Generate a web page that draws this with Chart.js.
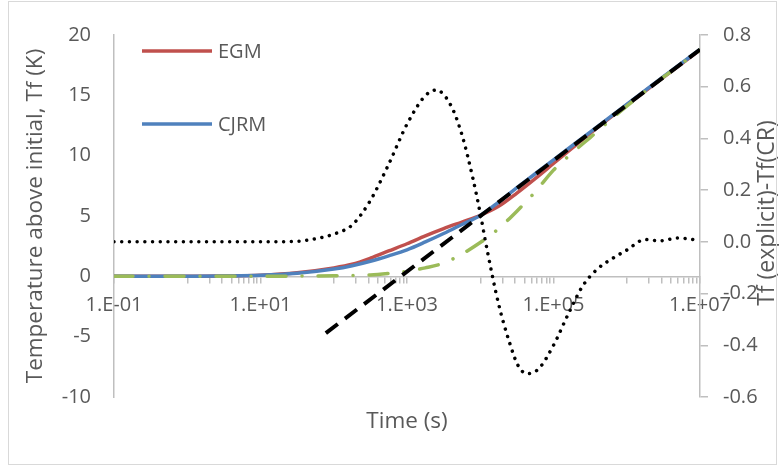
<!DOCTYPE html>
<html lang="en">

<head>
  <meta charset="UTF-8">
  <script src="https://cdn.jsdelivr.net/npm/chart.js"></script>
  <style>
    body { margin: 0; background: #fff; }
    .chart-box { position: relative; width: 779px; height: 468px; }
    .chart-box canvas { position: absolute; left: 0; top: 0; }
    .chart-frame {
      position: absolute; left: 8px; top: 1px; width: 769px; height: 464px;
      border: 1px solid #d9d9d9; box-sizing: border-box; pointer-events: none;
    }
  </style>
</head>

<body>
  <div class="chart-box">
    <canvas id="tempChart" width="779" height="468"></canvas>
    <div class="chart-frame"></div>
  </div>

  <script>
    // time grid (s) used by the three temperature curves
    const time = [0.1, 0.316, 1, 3.16, 10, 31.6, 100, 178, 316, 562, 1000, 1778, 3162, 5623,
      10000, 17783, 31623, 56234, 100000, 177828, 316228, 1000000, 3162278, 10000000];
    const egm = [0, 0, 0.01, 0.03, 0.1, 0.3, 0.7, 1.0, 1.5, 2.1, 2.7, 3.35, 3.95, 4.5,
      5.05, 5.8, 6.9, 8.1, 9.35, 10.6, 11.85, 14.2, 16.5, 18.75];
    const cjrm = [0, 0, 0.01, 0.03, 0.08, 0.25, 0.6, 0.88, 1.25, 1.7, 2.2, 2.85, 3.55, 4.3,
      5.05, 6.15, 7.35, 8.5, 9.65, 10.8, 11.95, 14.25, 16.55, 18.8];
    const explicitTf = [0, 0, 0, 0, 0.01, 0.02, 0.04, 0.07, 0.12, 0.25, 0.42, 0.7, 1.1, 1.85,
      2.8, 3.95, 5.4, 7.0, 8.8, 10.2, 11.5, 14.1, 16.5, 18.75];

    // long-time straight line (black dashed)
    const asymTime = [78, 10000000];
    const asymTf = [-4.7, 18.8];

    // Tf(explicit) - Tf(CR), right axis (black dotted)
    const diffTime = [0.1, 10, 31.6, 56.2, 100, 178, 316, 562, 1000, 1778, 2512, 3981, 5623, 7943,
      10000, 12589, 17783, 25119, 33113, 43652, 63096, 100000, 158489, 251189, 398107, 630957,
      1000000, 1778279, 2818383, 5011872, 10000000];
    const diff = [0, 0, 0.002, 0.012, 0.03, 0.065, 0.16, 0.30, 0.455, 0.565, 0.587, 0.527, 0.414, 0.245,
      0.11, -0.04, -0.24, -0.39, -0.48, -0.51, -0.49, -0.40, -0.28, -0.17, -0.105, -0.065,
      -0.032, 0.009, 0.004, 0.015, 0.005];

    const xTickValues = [0.1, 10, 1000, 100000, 10000000];
    const xTickLabels = ['1.E-01', '1.E+01', '1.E+03', '1.E+05', '1.E+07'];
    const legendNames = ['EGM', 'CJRM'];

    const grey = '#595959';
    const axisGrey = '#bfbfbf';
    const pts = (xs, ys) => xs.map((x, i) => ({ x: x, y: ys[i] }));

    Chart.defaults.font.family = '"Open Sans", sans-serif';
    Chart.defaults.font.size = 20;
    Chart.defaults.color = grey;

    // legend sits inside the plot, stacked with a big gap
    const insideLegend = {
      id: 'insideLegend',
      afterDraw(chart) {
        const ctx = chart.ctx;
        ctx.save();
        ctx.font = '20px "Open Sans"';
        ctx.fillStyle = grey;
        ctx.textBaseline = 'middle';
        legendNames.forEach((name, i) => {
          const ds = chart.data.datasets.find(d => d.label === name);
          const y = 51 + i * 73;
          ctx.strokeStyle = ds.borderColor;
          ctx.lineWidth = ds.borderWidth;
          ctx.beginPath();
          ctx.moveTo(142, y);
          ctx.lineTo(212, y);
          ctx.stroke();
          ctx.fillText(name, 218, y + 1);
        });
        ctx.restore();
      }
    };

    // right axis title reads bottom to top, like the left one
    const rightTitle = {
      id: 'rightTitle',
      afterDraw(chart) {
        const ctx = chart.ctx;
        ctx.save();
        ctx.translate(774, 213);
        ctx.rotate(-Math.PI / 2);
        ctx.font = '23px "Open Sans"';
        ctx.fillStyle = grey;
        ctx.textAlign = 'center';
        ctx.textBaseline = 'alphabetic';
        ctx.fillText('Tf (explicit)-Tf(CR)', 0, 0);
        ctx.restore();
      }
    };

    new Chart(document.getElementById('tempChart'), {
      type: 'line',
      data: {
        datasets: [
          {
            label: 'Tf(explicit)-Tf(CR)',
            data: pts(diffTime, diff),
            yAxisID: 'y2',
            borderColor: '#000000',
            borderWidth: 3.5,
            borderDash: [0.01, 7.7],
            borderCapStyle: 'round',
            cubicInterpolationMode: 'monotone',
            order: 0
          },
          {
            label: 'Asymptote',
            data: pts(asymTime, asymTf),
            yAxisID: 'y',
            borderColor: '#000000',
            borderWidth: 4,
            borderDash: [15, 9],
            order: 1
          },
          {
            label: 'Explicit',
            data: pts(time, explicitTf),
            yAxisID: 'y',
            borderColor: '#9BBB59',
            borderWidth: 3.5,
            borderDash: [19, 16, 0.01, 16],
            borderCapStyle: 'round',
            cubicInterpolationMode: 'monotone',
            order: 2
          },
          {
            label: 'CJRM',
            data: pts(time, cjrm),
            yAxisID: 'y',
            borderColor: '#4F81BD',
            borderWidth: 3.5,
            cubicInterpolationMode: 'monotone',
            order: 3
          },
          {
            label: 'EGM',
            data: pts(time, egm),
            yAxisID: 'y',
            borderColor: '#C0504D',
            borderWidth: 3.5,
            cubicInterpolationMode: 'monotone',
            order: 4
          }
        ]
      },
      options: {
        responsive: false,
        animation: false,
        events: [],
        elements: { point: { radius: 0 } },
        layout: { padding: { top: 25, left: 0, right: 0, bottom: 25 } },
        plugins: {
          legend: { display: false },
          tooltip: { enabled: false }
        },
        scales: {
          x: {
            type: 'logarithmic',
            position: { y: 0 },
            min: 0.1,
            max: 10000000,
            afterBuildTicks: (scale) => {
              const vals = [];
              for (let e = -1; e <= 7; e++) {
                if (e % 2 === 0) {
                  for (let k = 1; k <= 9; k++) vals.push(k * Math.pow(10, e));
                } else {
                  vals.push(Math.pow(10, e));
                }
              }
              scale.ticks = vals.map(v => ({ value: v }));
            },
            ticks: {
              autoSkip: false,
              maxRotation: 0,
              padding: 11,
              color: grey,
              callback: (value) => {
                const i = xTickValues.findIndex(v => Math.abs(Math.log10(v) - Math.log10(value)) < 1e-6);
                return i >= 0 ? xTickLabels[i] : '';
              }
            },
            grid: { display: true, drawOnChartArea: false, drawTicks: true, tickLength: 6, color: axisGrey, lineWidth: 1.5 },
            border: { display: true, color: axisGrey, width: 1.5 }
          },
          xTitle: {
            type: 'logarithmic',
            position: 'bottom',
            axis: 'x',
            min: 0.1,
            max: 10000000,
            afterFit: (s) => { s.height = 46; },
            ticks: { display: false },
            grid: { display: false },
            border: { display: false },
            title: {
              display: true,
              text: 'Time (s)',
              color: grey,
              font: { size: 22.5 },
              padding: { top: 0, bottom: 8 }
            }
          },
          y: {
            position: 'left',
            min: -10,
            max: 20,
            afterFit: (s) => { s.width = 114; },
            ticks: { stepSize: 5, padding: 23, color: grey },
            grid: { display: false, drawTicks: false },
            border: { display: true, color: axisGrey, width: 1.5 },
            title: {
              display: true,
              text: 'Temperature above initial, Tf (K)',
              color: grey,
              font: { size: 22.5 },
              padding: { top: 22, bottom: 0 }
            }
          },
          y2: {
            position: 'right',
            min: -0.6,
            max: 0.8,
            afterFit: (s) => { s.width = 79; },
            ticks: {
              stepSize: 0.2,
              padding: 15,
              color: grey,
              callback: (v) => (Math.abs(v) < 1e-9 ? '0.0' : v.toFixed(1))
            },
            grid: { display: true, drawOnChartArea: false, drawTicks: true, tickLength: 8, color: axisGrey, lineWidth: 1.5 },
            border: { display: true, color: axisGrey, width: 1.5 }
          }
        }
      },
      plugins: [insideLegend, rightTitle]
    });
  </script>
</body>

</html>
